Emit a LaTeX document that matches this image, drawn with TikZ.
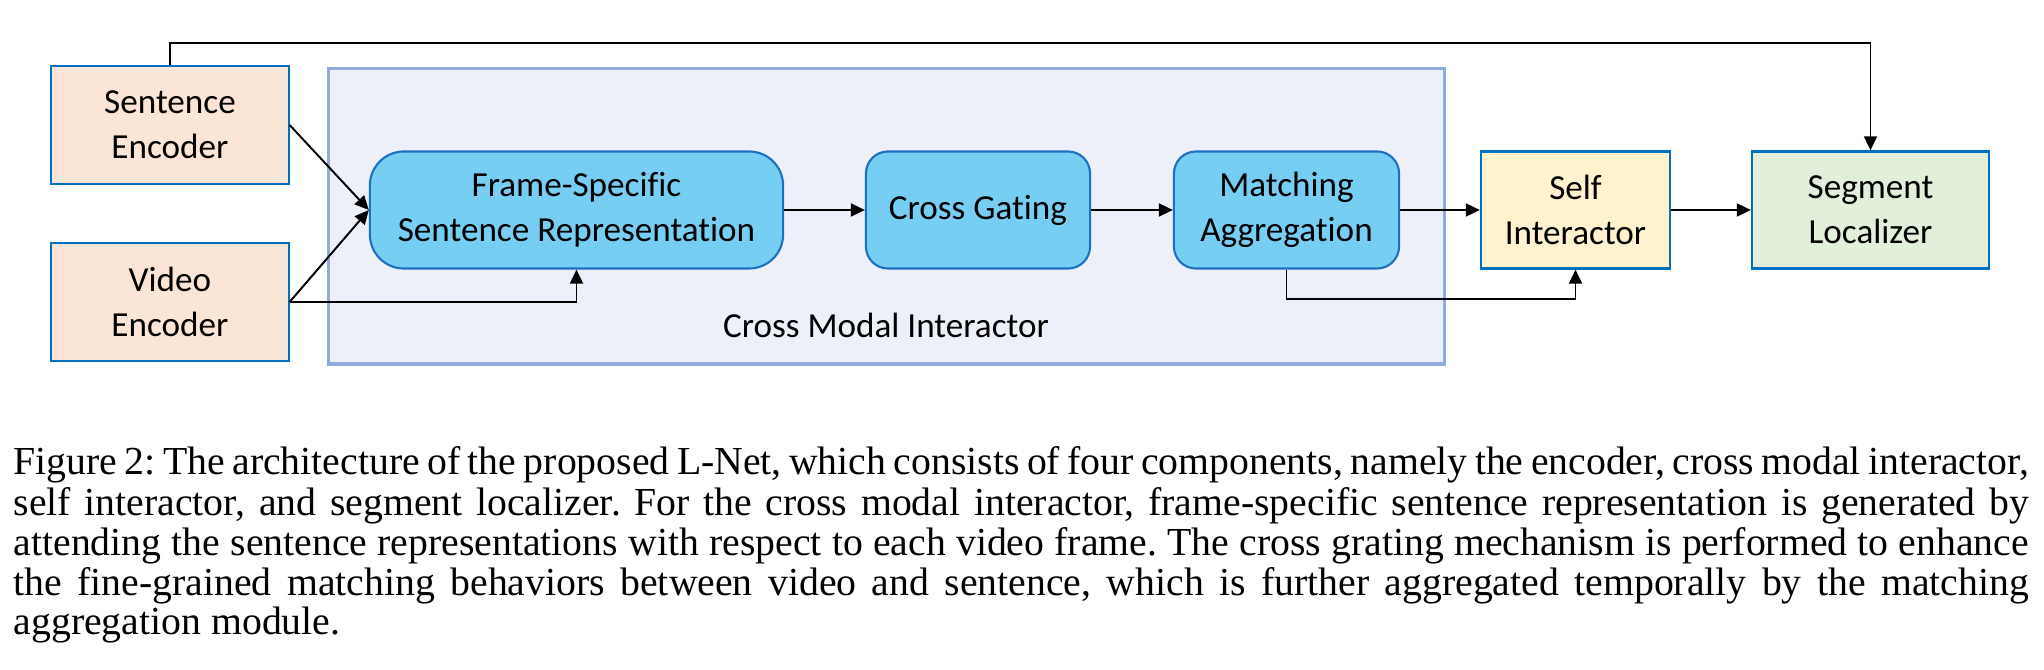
\documentclass[tikz,border=0pt]{standalone}
\usepackage{fontspec}
\setmainfont[Ligatures=NoCommon]{Carlito}
\newfontfamily\capfont{Liberation Serif}
\usetikzlibrary{arrows.meta,positioning}
\definecolor{encCol}{HTML}{FBE5D6}
\definecolor{cmiCol}{HTML}{EDF0F9}
\definecolor{cmiEdge}{HTML}{8FAADC}
\definecolor{modCol}{HTML}{76CEF3}
\definecolor{modEdge}{HTML}{1F6FC0}
\definecolor{selfCol}{HTML}{FFF2CC}
\definecolor{segCol}{HTML}{E2EFDA}
\definecolor{boxEdge}{HTML}{0070C0}
\tikzset{
  txt/.style={font=\fontsize{10pt}{12.8pt}\selectfont, align=center, inner sep=0pt},
  enc/.style={txt, draw=boxEdge, fill=encCol, line width=0.6pt, minimum width=2.37cm, minimum height=1.18cm},
  outbox/.style={txt, draw=boxEdge, line width=0.6pt, minimum height=1.17cm},
  mod/.style={txt, draw=modEdge, fill=modCol, line width=0.6pt, minimum height=1.17cm, rounded corners=0.22cm},
  group/.style={draw=cmiEdge, fill=cmiCol, line width=0.9pt, minimum width=11.15cm, minimum height=2.95cm},
  arr/.style={-{Triangle[length=4pt,width=3.7pt]}, line width=0.55pt},
  capstyle/.style={font=\capfont\fontsize{11.3pt}{9.47pt}\selectfont\frenchspacing, text width=20.14cm, align=justify, inner sep=0pt},
}
\begin{document}
\begin{tikzpicture}[x=0.01cm,y=0.01cm]
  \useasboundingbox (0,0) rectangle (2044,670);
  % cross modal interactor frame
  \node[group] (cmi) at (886.5,453.5) {};
  \node[txt] (cmilbl) at (886,345) {Cross Modal Interactor};
  % encoders
  \node[enc] (sent) at (170,545) {Sentence\\Encoder};
  \node[enc] (vid) at (170,368) {Video\\Encoder};
  % modules
  \node[mod, minimum width=4.13cm, rounded corners=0.34cm] (fssr) at (576.5,460) {Frame-Specific\\Sentence Representation};
  \node[mod, minimum width=2.24cm] (cg) at (978,460) {Cross Gating};
  \node[mod, minimum width=2.25cm] (ma) at (1286.5,460) {Matching\\Aggregation};
  \node[outbox, fill=selfCol, minimum width=1.89cm] (si) at (1575.5,460) {Self\\Interactor};
  \node[outbox, fill=segCol, minimum width=2.37cm] (sl) at (1870.5,460) {Segment\\Localizer};
  % connectors
  \draw[arr] (sent.east) -- (fssr.west);
  \draw[arr] (vid.east) -- (fssr.west);
  \draw[arr] (vid.east) -| (fssr.south);
  \draw[arr] (fssr) -- (cg);
  \draw[arr] (cg) -- (ma);
  \draw[arr] (ma) -- (si);
  \draw[arr] (si) -- (sl);
  \draw[arr] (ma.south) -- ++(0,-29) -| (si.south);
  \draw[arr] (sent.north) -- ++(0,22) -| (sl.north);
  % caption
  \node[capstyle, anchor=base west] (cap) at (13,195) {Figure 2: The architecture of the proposed L-Net, which consists of four components, namely the encoder, cross modal interactor,\linebreak
  self interactor, and segment localizer. For the cross modal interactor, frame-specific sentence representation is generated by\linebreak
  attending the sentence representations with respect to each video frame. The cross grating mechanism is performed to enhance\linebreak
  the fine-grained matching behaviors between video and sentence, which is further aggregated temporally by the matching\linebreak
  aggregation module.};
\end{tikzpicture}
\end{document}
